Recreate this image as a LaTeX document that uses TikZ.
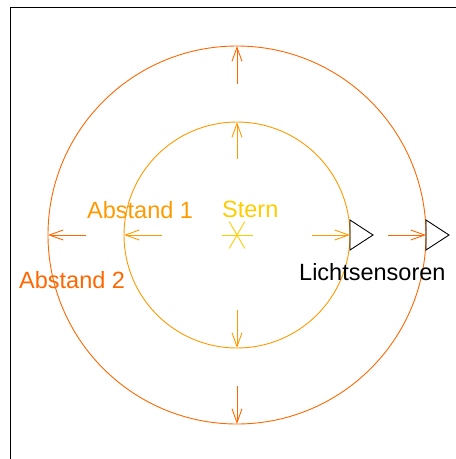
\documentclass[tikz,border=0pt]{standalone}
\usepackage{fontspec}
\setmainfont{Liberation Sans}
\usetikzlibrary{arrows.meta,calc}
\definecolor{ringinner}{RGB}{255,153,0}
\definecolor{ringouter}{RGB}{255,102,0}
\definecolor{stargold}{RGB}{255,204,0}
\begin{document}
\begin{tikzpicture}[x=1pt,y=-1pt,
  ring/.style={line width=0.9pt},
  ray/.style={line width=0.9pt,-{Straight Barb[length=14pt,width=10pt,line width=0.9pt]}},
  sensor/.style={draw=black,line width=0.9pt},
  lbl/.style={font=\fontsize{23.5}{26}\selectfont,inner sep=0pt,anchor=base west}]
\useasboundingbox (0,0) rectangle (456,459);
% frame (runs off the page on the right and at the bottom)
\begin{scope}
\clip (0,0) rectangle (456,459);
\draw[line width=1.6pt] (10.5,7.5) rectangle (470,470);
\end{scope}
% star at the centre
\coordinate (c) at (237,235);
\draw[stargold,line width=0.9pt] ($(c)+(-15.5,0)$) -- ($(c)+(15.5,0)$);
\draw[stargold,line width=0.9pt] ($(c)+(-7.75,-13.4)$) -- ($(c)+(7.75,13.4)$);
\draw[stargold,line width=0.9pt] ($(c)+(7.75,-13.4)$) -- ($(c)+(-7.75,13.4)$);
% the two distances
\draw[ring,ringinner] (c) circle[radius=113];
\draw[ring,ringouter] (c) circle[radius=189];
% points on the rings
\coordinate (it) at (237,122);
\coordinate (ib) at (237,348);
\coordinate (il) at (124,235);
\coordinate (ir) at (350,235);
\coordinate (ot) at (237,46);
\coordinate (ob) at (237,424);
\coordinate (ol) at (48,235);
\coordinate (or) at (426,235);
% rays
\draw[ray,ringinner] (237,159) -- (it);
\draw[ray,ringinner] (237,310) -- (ib);
\draw[ray,ringinner] (162,235) -- (il);
\draw[ray,ringinner] (312,235) -- (ir);
\draw[ray,ringouter] (237,84) -- (ot);
\draw[ray,ringouter] (237,386) -- (ob);
\draw[ray,ringouter] (86,235) -- (ol);
\draw[ray,ringouter] (388,235) -- (or);
% light sensors
\draw[sensor] (ir) ++(0,-15) -- ++(23,15) -- ++(-23,15) -- cycle;
\draw[sensor] (or) ++(0,-15) -- ++(23,15) -- ++(-23,15) -- cycle;
% labels
\node[lbl,text=ringinner] (a1) at (87,218) {Abstand 1};
\node[lbl,text=ringouter] (a2) at (19,288) {Abstand 2};
\node[lbl,text=stargold] (st) at (222,217) {Stern};
\node[lbl,text=black] (ls) at (299,280) {Lichtsensoren};
\end{tikzpicture}
\end{document}
